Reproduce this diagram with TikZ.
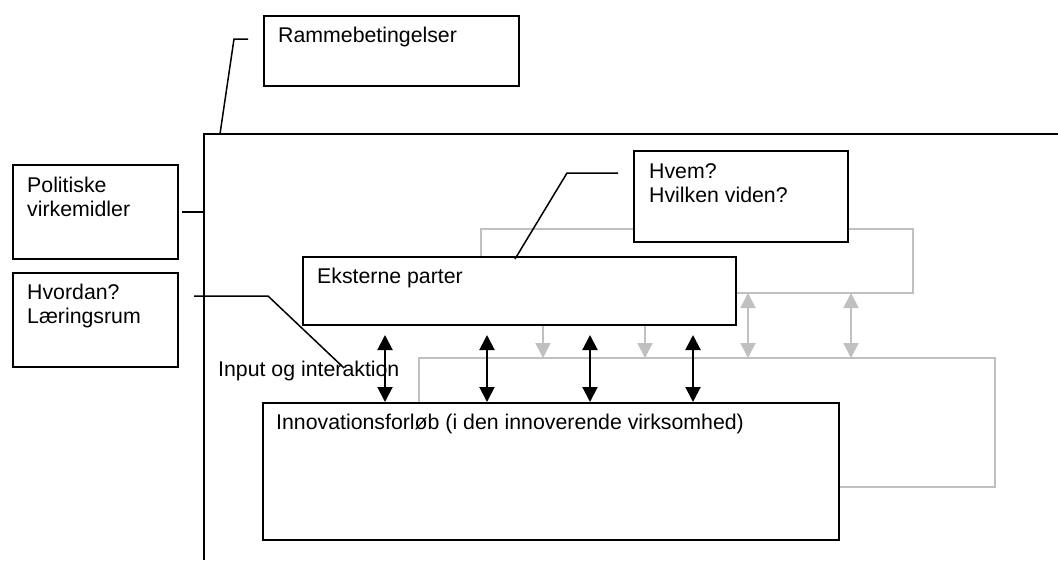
\documentclass[tikz,border=0pt]{standalone}
\usepackage{fontspec}
\setmainfont{Liberation Sans}
\usetikzlibrary{arrows.meta,calc,backgrounds}
\definecolor{loopgray}{RGB}{192,192,192}
\begin{document}
\begin{tikzpicture}[x=1pt, y=-1pt, >={Triangle[width=15pt,length=15pt]},
    box/.style={draw, line width=2pt, fill=white, anchor=north west, inner sep=0pt},
    txt/.style={anchor=north west, align=left, inner sep=0pt, font=\fontsize{21.3}{24}\selectfont},
    link/.style={line width=1.5pt},
    arr/.style={line width=2pt},
    graylink/.style={draw=loopgray, line width=1.9pt}]
    \useasboundingbox (0,0) rectangle (1058,560);
    % open frame
    \coordinate (frame) at (204,134);
    \draw[arr] (1058,134) -- (frame) -- (204,560);
    % boxes
    \node[box, minimum width=255, minimum height=70.5] (ramme) at (263,14.5) {};
    \node[box, minimum width=165, minimum height=94] (polit) at (12,164) {};
    \node[box, minimum width=165, minimum height=94] (hvordan) at (12,272) {};
    \node[box, minimum width=214, minimum height=91] (hvem) at (633,149.5) {};
    \node[box, minimum width=433, minimum height=67.5] (ekstern) at (302,256) {};
    \node[box, minimum width=576.5, minimum height=136.5] (innov) at (261.5,402) {};
    \node[txt] (rammetxt) at ($(ramme.north west)+(15,12)$) {Rammebetingelser};
    \node[txt] (polittxt) at ($(polit.north west)+(15,12.5)$) {Politiske\\virkemidler};
    \node[txt] (hvordantxt) at ($(hvordan.north west)+(15,12)$) {Hvordan?\\Læringsrum};
    \node[txt] (hvemtxt) at ($(hvem.north west)+(16,13.5)$) {Hvem?\\Hvilken viden?};
    \node[txt] (eksterntxt) at ($(ekstern.north west)+(15,12)$) {Eksterne parter};
    \node[txt] (innovtxt) at ($(innov.north west)+(14.5,12)$) {Innovationsforløb (i den innoverende virksomhed)};
    \node[txt, anchor=base west] (input) at (218,376) {Input og interaktion};
    % grey loops, behind the boxes
    \coordinate (upA) at (481,229);
    \coordinate (upB) at (913,293);
    \coordinate (lowA) at (419,358);
    \coordinate (lowB) at (995,487);
    \begin{scope}[on background layer]
        \draw[graylink] (ekstern.north -| upA) |- (upB |- upA) |- (ekstern.east |- upB);
        \draw[graylink] (innov.north -| lowA) |- (lowB |- lowA) |- (innov.east |- lowB);
    \end{scope}
    \foreach \x in {543,645}{
        \coordinate (g) at (\x,0);
        \draw[->, graylink] (g |- ekstern.south) -- (g |- lowA);
    }
    \foreach \x in {748,851}{
        \coordinate (g) at (\x,0);
        \draw[<->, graylink] (g |- upB) -- (g |- lowA);
    }
    % input and interaction
    \foreach \x in {385,487,590,693}{
        \coordinate (t) at (\x,335);
        \draw[<->, arr] (t) -- (t |- innov.north);
    }
    % leaders
    \draw[link] ($(ramme.north west)+(-15,24.5)$) -- ++(-14,0) -- ($(frame)+(16,0)$);
    \draw[link] ([xshift=3]polit.east) -- (polit.east -| frame);
    \coordinate (hvbend) at (268,296);
    \draw[link] ($(hvordan.north east)+(15,24)$) -- (hvbend) -- (344,368);
    \coordinate (hvembend) at (567,173);
    \draw[link] ($(hvem.north west)+(-15,23.5)$) -- (hvembend) -- ($(ekstern.north west)+(213,3)$);
\end{tikzpicture}
\end{document}
